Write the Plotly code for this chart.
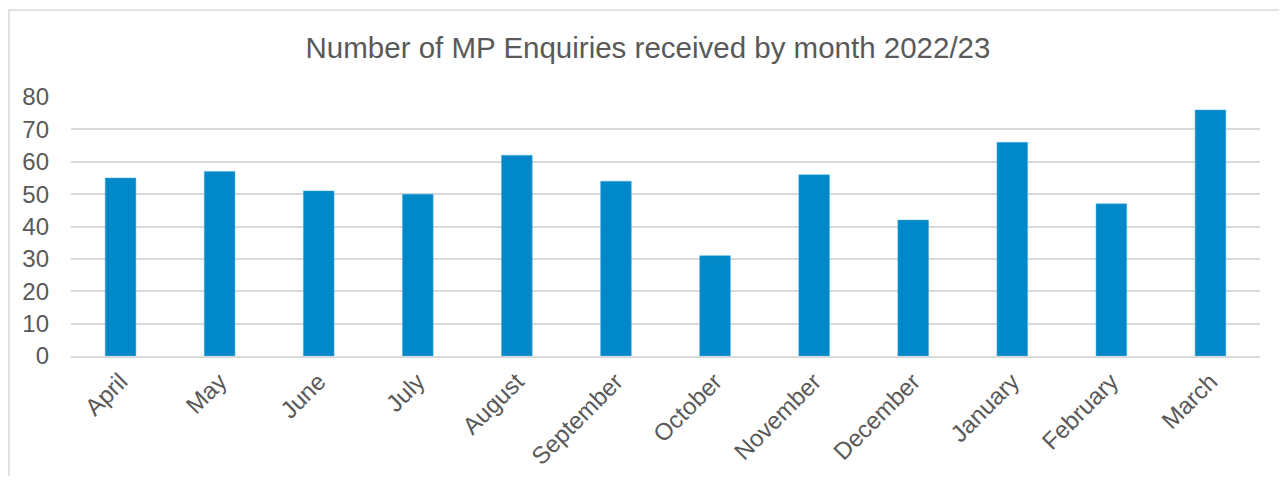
import plotly.graph_objects as go

months = ["April", "May", "June", "July", "August", "September", "October",
          "November", "December", "January", "February", "March"]
enquiries = [55, 57, 51, 50, 62, 54, 31, 56, 42, 66, 47, 76]
y_ticks = [0, 10, 20, 30, 40, 50, 60, 70, 80]

fig = go.Figure()
fig.add_trace(go.Bar(
    x=months, y=enquiries,
    marker=dict(color="#0088C8", line=dict(color="#4FB3E3", width=0.5)),
    width=0.31,
))

W, H = 1271, 468
L, R, T, B = 63, 19, 89, 120
pw, ph = W - L - R, H - T - B
fig.update_layout(
    width=W, height=H,
    margin=dict(l=L, r=R, t=T, b=B, autoexpand=False),
    paper_bgcolor="white", plot_bgcolor="white",
    font=dict(family="Liberation Sans, Arial, sans-serif", color="#595959", size=18),
    title=dict(text="Number of MP Enquiries received by month 2022/23",
               x=640 / W, xref="container", y=1 - 40 / H, yref="container",
               xanchor="center", yanchor="middle",
               font=dict(size=29.5, color="#595959")),
    showlegend=False,
    xaxis=dict(tickangle=-45, showgrid=False, showline=True, linecolor="#D9D9D9",
               linewidth=2, ticks="", tickfont=dict(size=24, color="#595959")),
    yaxis=dict(range=[0, 80], tickvals=y_ticks, showgrid=True, gridcolor="#D9D9D9",
               gridwidth=2, zeroline=False, showline=False, ticks="",
               ticklabelstandoff=21,
               tickfont=dict(size=24, color="#595959")),
    shapes=[dict(type="rect", xref="paper", yref="paper",
                 x0=(1 - L) / pw, x1=(W + 20 - L) / pw,
                 y0=-(B + 20) / ph, y1=1 + (T - 2) / ph,
                 line=dict(color="#D9D9D9", width=1.5), layer="below")],
)

fig.write_html("out.html")
